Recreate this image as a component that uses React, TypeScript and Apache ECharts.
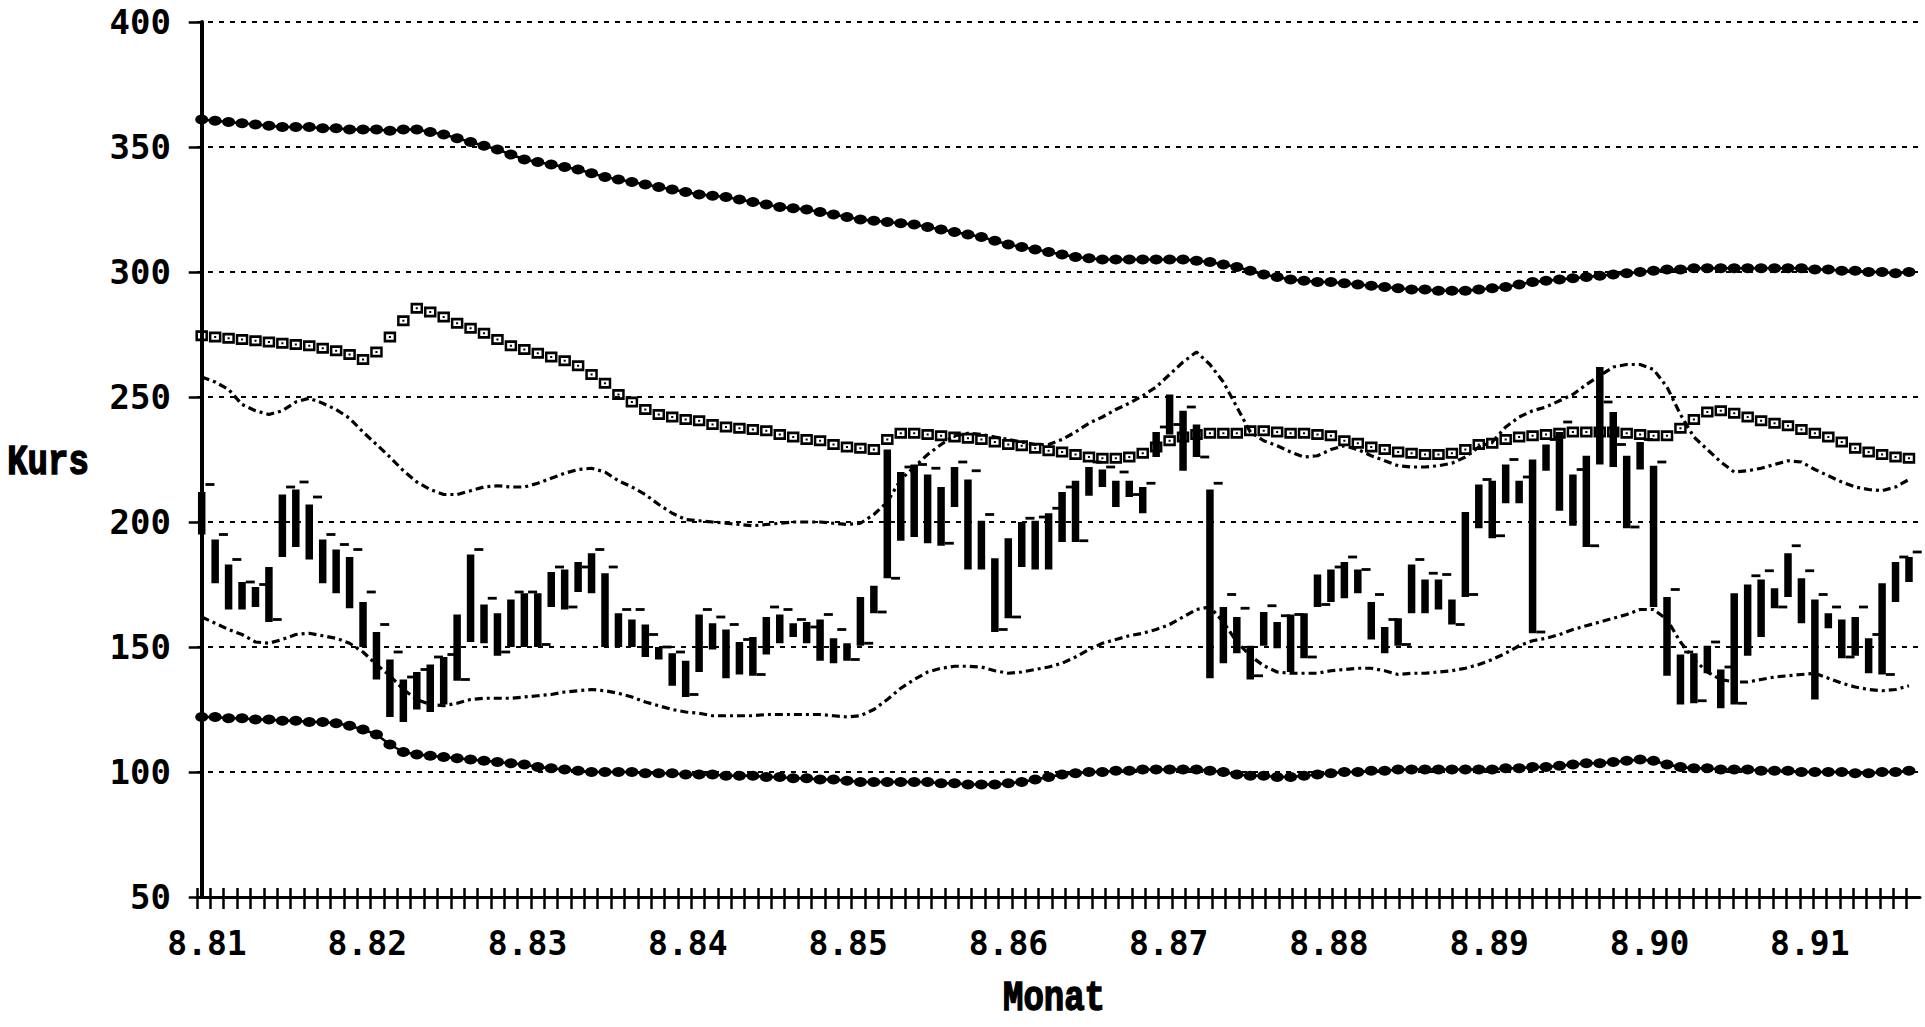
import React, { useEffect, useRef } from "react";
import * as echarts from "echarts";

// x tick labels (one every 12 months, month index 0 = 8.81)
const YEAR_LABELS = ["8.81", "8.82", "8.83", "8.84", "8.85", "8.86", "8.87", "8.88", "8.89", "8.90", "8.91"];

// upper dotted band (filled circles)
const TOP = [
  361, 360.5, 360, 359.5, 359, 358.5, 358, 358, 358, 357.5,
  357.5, 357, 357, 357, 356.5, 357, 357, 356, 355, 353.5,
  352, 350.5, 349, 347, 345, 344, 343, 342, 341, 339.5,
  338, 337, 336, 335, 334, 333, 332, 331, 330.5, 330,
  329, 328, 327, 326, 325.5, 325, 324, 323, 322, 321,
  320.5, 320, 319.5, 319, 318, 317, 316, 315, 314, 312.5,
  311, 310, 309, 308, 307, 306, 305.5, 305, 305, 305,
  305, 305, 305, 305, 304.5, 304, 303, 302, 300.5, 299,
  298, 297, 296.5, 296, 296, 295.5, 295, 294.5, 294, 293.5,
  293, 293, 292.5, 292.5, 292.5, 293, 293.5, 294, 295, 296,
  296.5, 297, 297.5, 298, 298.5, 299, 299.5, 300, 300.5, 301,
  301, 301.5, 301.5, 301.5, 301.5, 301.5, 301.5, 301.5, 301.5, 301.5,
  301, 301, 300.5, 300.5, 300, 300, 299.5, 300,
];

// lower dotted band (filled circles)
const BOTTOM = [
  122, 122, 121.5, 121.5, 121, 121, 120.5, 120.5, 120, 120,
  119.5, 118.5, 117, 115, 111, 108, 107, 106.5, 106, 105.5,
  105, 104.5, 104, 103.5, 103, 102, 101.5, 101, 100.5, 100,
  100, 100, 100, 99.5, 99.5, 99.5, 99, 99, 99, 98.5,
  98.5, 98.5, 98, 98, 97.5, 97.5, 97, 97, 96.5, 96,
  96, 96, 96, 96, 96, 95.5, 95.5, 95, 95, 95,
  95.5, 96, 97, 98, 99, 99.5, 100, 100, 100.5, 100.5,
  101, 101, 101, 101, 101, 100.5, 100, 99, 98.5, 98.5,
  98, 98, 98.5, 99, 99.5, 100, 100, 100.5, 100.5, 101,
  101, 101, 101, 101, 101, 101, 101, 101.5, 101.5, 102,
  102, 102.5, 103, 103.5, 103.5, 104, 104.5, 105, 104.5, 103,
  102, 101.5, 101.5, 101, 101, 101, 100.5, 100.5, 100.5, 100,
  100, 100, 100, 99.5, 99.5, 100, 100, 100.5,
];

// square-marker line
const SQUARES = [
  274.5, 274, 273.5, 273, 272.5, 272, 271.5, 271, 270.5, 269.5,
  268.5, 267, 265, 268, 274, 280.5, 285.5, 284, 282, 279.5,
  277.5, 275.5, 273, 270.5, 269, 267.5, 266, 264.5, 262.5, 259,
  255.5, 251, 248, 245, 243, 242, 241, 240.5, 239, 238,
  237.5, 237, 236.5, 235, 234, 233, 232.5, 231, 230, 229.5,
  229, 233, 235.5, 235.5, 235, 234.5, 234, 233.5, 233, 232,
  231, 230.5, 229.5, 228.5, 228, 227, 226, 225.5, 225.5, 226,
  227.5, 230, 232.5, 234, 235, 235.5, 235.5, 235.5, 236.5, 236.5,
  236, 235.5, 235.5, 235, 234.5, 232.5, 231.5, 230, 229, 228,
  227.5, 227, 227, 227.5, 229, 231, 231.5, 233, 234, 234.5,
  235, 235.5, 236, 236, 236, 236, 235.5, 235, 234.5, 234.5,
  237.5, 241, 244, 244.5, 243.5, 242, 240.5, 239.5, 238.5, 237,
  235.5, 234, 232, 229.5, 228, 227, 226, 225.5,
];

// upper dash-dot line
const UPPER = [
  258, 256, 253, 247, 244.5, 243, 244.5, 248, 249.5, 247.5,
  245, 241.5, 236, 231, 226, 220.5, 216, 213, 211, 211,
  212.5, 214, 214.5, 214, 214, 215.5, 217.5, 219.5, 221, 221.5,
  220, 216.5, 214, 211, 207, 203.5, 201, 200.5, 200, 199.5,
  199, 198.5, 199, 199.5, 200, 200, 200, 199.5, 199, 199.5,
  203, 208, 217, 222, 227, 231, 234.5, 235.5, 235, 234,
  233, 232, 231, 231, 233, 236, 239.5, 242, 245, 247.5,
  250.5, 254, 259, 264, 268, 263, 256, 246, 236, 232.5,
  230.5, 228, 226, 226.5, 229, 230.5, 229, 226.5, 224.5, 222.5,
  222, 222, 222.5, 223.5, 226, 230, 232, 238, 242, 244.5,
  246, 248.5, 251, 255, 258.5, 262, 263, 263, 261, 254,
  243, 234, 229, 224, 220, 220.5, 221.5, 223, 224.5, 224,
  221, 218.5, 216, 214, 213, 212.5, 214, 217,
];

// lower dash-dot line
const LOWER = [
  162, 159.5, 157, 155, 152, 151.5, 153, 155, 155.5, 154.5,
  153.5, 151.5, 148, 143, 138.5, 133, 129, 127, 126.5, 127.5,
  129, 129.5, 129.5, 129.5, 130, 130.5, 131, 132, 132.5, 133,
  132.5, 131.5, 130, 128, 126.5, 125, 124, 123.5, 122.5, 122.5,
  122.5, 122.5, 123, 123, 123, 123, 123, 122.5, 122, 122.5,
  125, 129, 133.5, 137, 140, 141.5, 142.3, 142.3, 142, 140.5,
  139.5, 140, 141, 142, 143.5, 146, 149, 151.5, 153, 154.5,
  155.5, 157, 159, 162, 165, 166, 160, 152, 146.5, 142.5,
  140, 139.5, 139.5, 139.5, 140.5, 141, 141.5, 141.5, 140.5, 139,
  139.5, 139.5, 140, 140.5, 141.5, 143, 145, 147.5, 150.5, 152.5,
  153.5, 155, 157, 158.5, 160, 161.5, 163, 165, 165, 161,
  152, 145, 140, 137, 136, 136, 137, 138, 138.5, 139,
  139.5, 137.5, 135.5, 134, 133, 132.5, 133, 134.5,
];

// monthly price bars: low, high, close (right tick)
const LOW = [
  195, 175.5, 165, 165, 166, 160, 186, 190, 185, 175.5,
  171.5, 165.5, 150, 137, 122, 120, 125, 124, 127, 136.5,
  152, 151.5, 146.5, 150, 150, 150, 166, 165, 172, 171.5,
  150, 150, 150, 146, 145, 134.5, 130, 140, 149, 137.5,
  139, 138.5, 147, 151.5, 154, 151.5, 144.5, 143.5, 144.5, 150.5,
  163.5, 177.5, 192.5, 194, 191.5, 190.5, 206, 181, 181, 156,
  161.5, 182, 181, 181, 192, 192, 210.5, 214, 206, 210,
  203.5, 226, 235, 220.5, 226, 137.5, 143.5, 147.5, 137, 150.5,
  149.5, 140, 145.5, 166, 168, 169.5, 171.5, 153, 147.5, 150.5,
  163.5, 163.5, 165, 159, 170, 197.5, 193.5, 207.5, 207.5, 155.5,
  220.5, 204.5, 198.5, 190, 223, 222, 197.5, 221, 166, 138.5,
  127, 127.5, 139.5, 125.5, 127, 146.5, 154, 165.5, 170, 159.5,
  129, 157.5, 145.5, 146.5, 139.5, 139, 168, 176,
];
const HIGH = [
  212, 193, 183, 176, 174, 182, 211, 213, 207, 193,
  189, 186, 168, 156, 145, 137, 140, 143, 146, 163,
  187, 167, 163.5, 169, 171.5, 171.5, 180, 181, 184, 187.5,
  179.5, 163.5, 161, 159, 150, 147.5, 144.5, 163, 159.5, 157,
  152, 154, 162, 163, 159.5, 160, 161, 153.5, 151.5, 170,
  174.5, 229, 220, 223, 219, 214, 222, 217, 200.5, 185.5,
  193.5, 200, 200.5, 203.5, 212, 216.5, 222, 221, 216.5, 216.5,
  214, 236, 251, 244.5, 239, 213, 166, 162, 150.5, 164,
  160, 163, 163.5, 179, 181, 184, 181, 168, 158, 161.5,
  183, 177, 177, 169, 204, 215, 216.5, 223, 216.5, 225,
  231, 236, 219, 226.5, 262, 244, 226.5, 232, 222.5, 170,
  147, 147.5, 150.5, 141, 171.5, 175, 177, 173.5, 187.5, 177.5,
  169, 163.5, 161, 162, 153.5, 175.5, 184, 186,
];
const CLOSE = [
  215, 195, 185, 176, 175, 161, 214, 216, 210, 195,
  191, 189, 172, 159, 148, 138, 141, 146, 147, 137,
  189, 169.5, 148, 172, 172, 151, 182, 166, 182, 189,
  182, 165, 165, 155, 150, 148, 131, 165, 162, 159,
  153, 139, 166, 165, 161, 158, 163, 157, 145, 151.5,
  164, 177.5, 222, 223, 221.5, 191.5, 224, 220.5, 203, 157,
  162, 201.5, 202, 205.5, 214, 192.5, 224, 222, 220, 211,
  215.5, 238, 239, 246, 226, 215.5, 171, 165.5, 138.5, 166.5,
  162.5, 163, 146, 167, 182, 186, 181, 171, 161, 151,
  185, 179.5, 179, 159, 171, 217, 194.5, 225, 218, 156,
  233, 240, 221, 190.5, 248, 231, 198, 233, 224, 173,
  148, 128.5, 152, 142, 127.5, 178.5, 180.5, 166, 190.5, 180.5,
  171, 166, 146, 166, 155, 139, 186, 188,
];

const N_CATS = 130;
const TICK_FONT = '"DejaVu Sans Mono", "Liberation Mono", monospace';
const TITLE_FONT = '"Liberation Mono", "DejaVu Sans Mono", monospace';

const SQ_PATH = "path://M0,0H12V10H0Z M2.4,2.4V7.6H9.6V2.4Z M5,4H7V6H5Z";

export default function App() {
  const ref = useRef<HTMLDivElement>(null);

  useEffect(() => {
    document.body.style.margin = "0";
    document.body.style.overflow = "hidden";
    if (!ref.current) return;
    const chart = echarts.init(ref.current, null, { renderer: "svg" });

    const cats: string[] = [];
    for (let i = 0; i < N_CATS; i++) {
      cats.push(i % 12 === 0 && YEAR_LABELS[i / 12] ? YEAR_LABELS[i / 12] : "");
    }
    const pts = (arr: number[]) => arr.map((v, k) => [k, v]);
    const barRows = LOW.map((lo, k) => [k, lo, HIGH[k], CLOSE[k]]);
    const tickInterval = (i: number) => i < N_CATS - 1;

    const option: any = {
      animation: false,
      backgroundColor: "#ffffff",
      grid: { left: 197, top: 22, width: 1723, height: 875, containLabel: false },
      xAxis: [
        {
          type: "category",
          data: cats,
          boundaryGap: false,
          position: "bottom",
          axisLine: { show: true, lineStyle: { color: "#000", width: 3 } },
          axisTick: { show: true, interval: tickInterval, length: 12, lineStyle: { color: "#000", width: 2.5 } },
          axisLabel: {
            interval: 0,
            color: "#000",
            fontFamily: TICK_FONT,
            fontWeight: "bold",
            fontSize: 33,
            margin: 30,
            padding: [0, 0, 0, 20],
          },
          splitLine: { show: false },
        },
        { type: "value", min: -0.35, max: 127.82, show: false, position: "top" },
        {
          type: "category",
          data: cats,
          boundaryGap: false,
          position: "bottom",
          axisLine: { show: false },
          axisTick: { show: true, inside: true, interval: tickInterval, length: 9, lineStyle: { color: "#000", width: 2.5 } },
          axisLabel: { show: false },
          splitLine: { show: false },
        },
      ],
      yAxis: {
        type: "value",
        min: 50,
        max: 400,
        interval: 50,
        axisLine: { show: true, lineStyle: { color: "#000", width: 4 } },
        axisTick: { show: true, length: 13, lineStyle: { color: "#000", width: 2.5 } },
        axisLabel: {
          color: "#000",
          fontFamily: TICK_FONT,
          fontWeight: "bold",
          fontSize: 34,
          margin: 26,
        },
        splitLine: { show: true, lineStyle: { color: "#000", width: 1.8, type: [5, 6] } },
      },
      graphic: [
        {
          type: "text",
          x: 48,
          y: 463,
          scaleY: 1.25,
          style: {
            text: "Kurs",
            fontFamily: TITLE_FONT,
            fontWeight: "bold",
            fontSize: 34,
            fill: "#000",
            stroke: "#000",
            lineWidth: 1.2,
            align: "center",
            verticalAlign: "middle",
          },
        },
        {
          type: "text",
          x: 1054,
          y: 999,
          scaleY: 1.25,
          style: {
            text: "Monat",
            fontFamily: TITLE_FONT,
            fontWeight: "bold",
            fontSize: 34,
            fill: "#000",
            stroke: "#000",
            lineWidth: 1.2,
            align: "center",
            verticalAlign: "middle",
          },
        },
      ],
      series: [
        {
          name: "Kurs",
          type: "custom",
          xAxisIndex: 1,
          yAxisIndex: 0,
          encode: { x: 0, y: [1, 2, 3] },
          data: barRows,
          z: 2,
          renderItem: (params: any, api: any) => {
            const k = api.value(0);
            const pLo = api.coord([k, api.value(1)]);
            const pHi = api.coord([k, api.value(2)]);
            const pCl = api.coord([k, api.value(3)]);
            const w = 7.5;
            return {
              type: "group",
              children: [
                {
                  type: "rect",
                  shape: { x: pLo[0] - w / 2, y: pHi[1], width: w, height: Math.max(2, pLo[1] - pHi[1]) },
                  style: { fill: "#000" },
                },
                {
                  type: "rect",
                  shape: { x: pLo[0] + w / 2, y: pCl[1] - 1.4, width: 9, height: 2.8 },
                  style: { fill: "#000" },
                },
              ],
            };
          },
        },
        {
          name: "Oberes Band",
          type: "line",
          xAxisIndex: 1,
          data: pts(UPPER),
          showSymbol: false,
          z: 3,
          lineStyle: { color: "#000", width: 3.2, type: [8, 4, 3, 4] },
        },
        {
          name: "Unteres Band",
          type: "line",
          xAxisIndex: 1,
          data: pts(LOWER),
          showSymbol: false,
          z: 3,
          lineStyle: { color: "#000", width: 3.2, type: [8, 4, 3, 4] },
        },
        {
          name: "Durchschnitt",
          type: "line",
          xAxisIndex: 1,
          data: pts(SQUARES),
          symbol: SQ_PATH,
          symbolSize: [12.5, 11],
          symbolKeepAspect: false,
          showAllSymbol: true,
          z: 4,
          itemStyle: { color: "#000" },
          lineStyle: { color: "#000", width: 0, opacity: 0 },
        },
        {
          name: "Maximum",
          type: "line",
          xAxisIndex: 1,
          data: pts(TOP),
          symbol: "circle",
          symbolSize: [13, 10],
          showAllSymbol: true,
          z: 4,
          itemStyle: { color: "#000" },
          lineStyle: { color: "#000", width: 2.5 },
        },
        {
          name: "Minimum",
          type: "line",
          xAxisIndex: 1,
          data: pts(BOTTOM),
          symbol: "circle",
          symbolSize: [13, 10],
          showAllSymbol: true,
          z: 4,
          itemStyle: { color: "#000" },
          lineStyle: { color: "#000", width: 2.5 },
        },
      ],
    };

    chart.setOption(option);
    return () => chart.dispose();
  }, []);

  return <div ref={ref} style={{ width: 1925, height: 1027, background: "#fff" }} />;
}
